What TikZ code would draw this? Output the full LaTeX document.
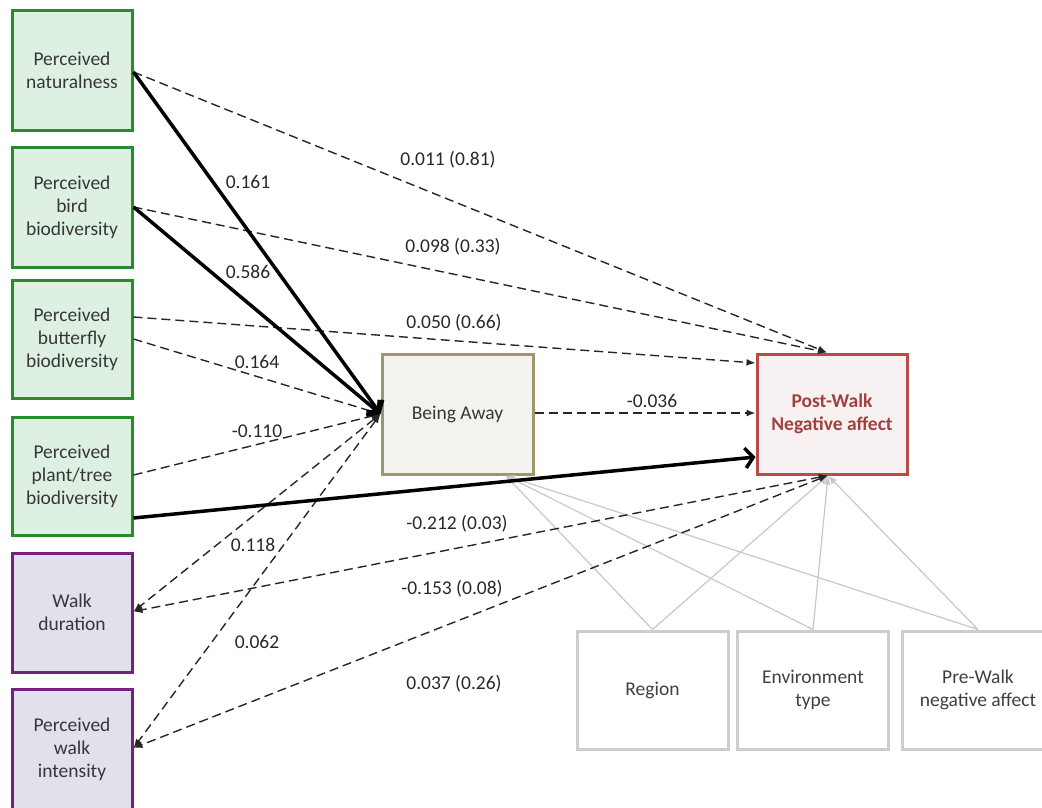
\documentclass[tikz,border=0pt]{standalone}
\usepackage{fontspec}
\setmainfont{Carlito}
\usetikzlibrary{arrows.meta,calc}
\definecolor{grnb}{RGB}{40,140,45}
\definecolor{grnf}{RGB}{222,240,226}
\definecolor{purb}{RGB}{115,35,125}
\definecolor{purf}{RGB}{226,224,234}
\definecolor{awayb}{RGB}{160,150,110}
\definecolor{awayf}{RGB}{242,242,238}
\definecolor{postb}{RGB}{185,75,75}
\definecolor{postf}{RGB}{248,241,241}
\definecolor{postt}{RGB}{160,65,65}
\definecolor{grayb}{RGB}{205,205,205}
\definecolor{grayl}{RGB}{200,200,200}
\definecolor{txt}{RGB}{55,55,55}
\definecolor{labt}{RGB}{40,40,40}
\begin{document}
\begin{tikzpicture}[x=1pt,y=-1pt,
  box/.style={draw, line width=3pt, minimum width=120pt, minimum height=120pt,
    align=center, inner sep=0pt, text=txt, font=\fontsize{19.5}{23}\selectfont},
  gbox/.style={box, draw=grnb, fill=grnf},
  pbox/.style={box, draw=purb, fill=purf},
  abox/.style={box, draw=awayb, fill=awayf, minimum width=151pt},
  nbox/.style={box, draw=postb, fill=postf, minimum width=150pt, text=postt,
    font=\fontsize{19.5}{23}\selectfont\bfseries},
  cbox/.style={box, draw=grayb, fill=white, minimum width=151pt, minimum height=118pt, text=black!75},
  lab/.style={text=labt, font=\fontsize{19.5}{23}\selectfont, inner sep=0pt},
  dsh/.style={draw=black!85, line width=1.4pt, dash pattern=on 9pt off 5pt,
    -{Latex[length=9pt,width=7pt]}},
  dshb/.style={dsh, {Latex[length=9pt,width=7pt]}-{Latex[length=9pt,width=7pt]}},
  thk/.style={draw=black, line width=3.5pt, -{Straight Barb[length=8pt,width=20pt]}},
  gl/.style={draw=grayl, line width=1.2pt, -{Latex[length=9pt,width=7pt]}}
]
\useasboundingbox (0,0) rectangle (1042,807);

% nodes
\node[gbox] (nat)   at (72,70)  {Perceived\\naturalness};
\node[gbox] (bird)  at (72,207) {Perceived\\bird\\biodiversity};
\node[gbox, minimum height=118pt] (butt) at (72,339) {Perceived\\butterfly\\biodiversity};
\node[gbox, minimum height=118pt] (plant) at (72,476) {Perceived\\plant/tree\\biodiversity};
\node[pbox, minimum height=119pt] (walk) at (72,612.5) {Walk\\duration};
\node[pbox] (inten) at (72,749) {Perceived\\walk\\intensity};
\node[abox] (away) at (457.5,414) {Being Away};
\node[nbox] (post) at (832,414) {Post-Walk\\Negative affect};
\node[cbox] (reg) at (652.5,690) {Region};
\node[cbox] (env) at (813,690) {Environment\\type};
\node[cbox] (pre) at (978,690) {Pre-Walk\\negative affect};

% coordinates
\coordinate (awayin) at (away.west);
\coordinate (posttop) at ([xshift=-5pt]post.north);
\coordinate (postbot) at ([xshift=-4pt]post.south);
\coordinate (awaybot) at ([xshift=48pt]away.south);

% control variable lines
\foreach \c in {reg,env,pre}{
  \draw[gl] (\c.north) -- (awaybot);
  \draw[gl] (\c.north) -- (postbot);
}

% dashed paths
\draw[dsh] ([yshift=-2pt]nat.east) -- (posttop);
\draw[dsh] (bird.east) -- (posttop);
\draw[dsh] ([yshift=22pt]butt.east) -- ([yshift=51pt]post.west);
\draw[dsh] (butt.east) -- (awayin);
\draw[dsh] ([yshift=1pt]plant.east) -- (awayin);
\draw[dshb] (awayin) -- ([yshift=1pt]walk.east);
\draw[dshb] (postbot) -- ([yshift=1pt]walk.east);
\draw[dshb] (awayin) -- ([yshift=1pt]inten.east);
\draw[dshb] (postbot) -- ([yshift=1pt]inten.east);
\draw[dsh] ([yshift=1pt]away.east) -- ([yshift=1pt]post.west);

% solid paths
\draw[thk] ([yshift=-2pt]nat.east) -- (awayin);
\draw[thk] (bird.east) -- (awayin);
\draw[thk] ([yshift=-42pt]plant.east) -- ([yshift=-43pt]post.west);

% labels
\node[lab] (l1)  at (448,160) {0.011 (0.81)};
\node[lab] (l2)  at (453,247) {0.098 (0.33)};
\node[lab] (l3)  at (454,323) {0.050 (0.66)};
\node[lab] (l4)  at (248,182) {0.161};
\node[lab] (l5)  at (248,272) {0.586};
\node[lab] (l6)  at (257,362) {0.164};
\node[lab] (l7)  at (257,431) {-0.110};
\node[lab] (l8)  at (253,545) {0.118};
\node[lab] (l9)  at (257,642) {0.062};
\node[lab] (l10) at (457,524) {-0.212 (0.03)};
\node[lab] (l11) at (452,589) {-0.153 (0.08)};
\node[lab] (l12) at (454,684) {0.037 (0.26)};
\node[lab] (l13) at (652,401) {-0.036};
\end{tikzpicture}
\end{document}
